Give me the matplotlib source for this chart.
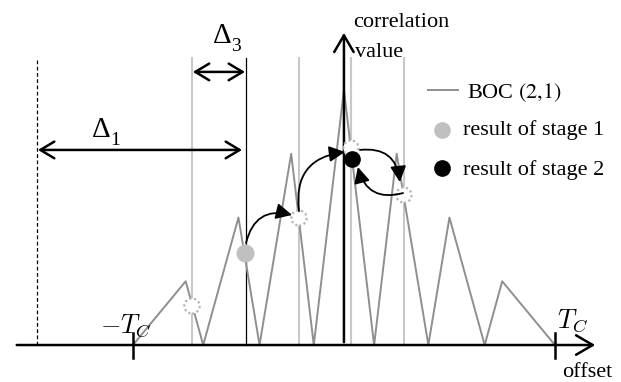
import matplotlib
matplotlib.use("Agg")
import matplotlib.pyplot as plt
from matplotlib.patches import FancyArrowPatch

plt.rcParams['font.family'] = ['Liberation Serif', 'DejaVu Serif']
plt.rcParams['mathtext.fontset'] = 'cm'

# BOC(2,1) correlation envelope (offset in chips, |R|)
offset_tc = [-1, -0.75, -0.667, -0.5, -0.4, -0.25, -0.143, 0, 0.143, 0.25, 0.4, 0.5, 0.667, 0.75, 1]
corr = [0, 0.25, 0, 0.5, 0, 0.75, 0, 1, 0, 0.75, 0, 0.5, 0, 0.25, 0]

# search grid lines
grid_x = [-0.720, -0.213, 0.033, 0.284]
stage1_x = -0.464
dashed_x = -1.455
line_top = 1.125

# candidate points (dotted), stage results
cand_x = [-0.720, -0.213, 0.033, 0.284]
cand_y = [0.153, 0.498, 0.773, 0.588]
s1_pt = (-0.469, 0.361)
s2_pt = (0.038, 0.729)

# hop arrows: (start, end)
hops = [((-0.464, 0.40), (-0.246, 0.510)),
        ((-0.213, 0.525), (0.005, 0.757)),
        ((0.076, 0.765), (0.265, 0.639)),
        ((0.280, 0.596), (0.066, 0.698))]

fig = plt.figure(figsize=(6.21, 3.82), dpi=100)
ax = fig.add_axes([0, 0, 1, 1])
ax.set_xlim(-1.630, 1.313)
ax.set_ylim(-0.145, 1.353)
ax.axis('off')

light = '#c8c8c8'
mid = '#8f8f8f'

for gx in grid_x:
    ax.plot([gx, gx], [0, line_top], color=light, lw=1.5, zorder=1)
ax.plot([stage1_x, stage1_x], [0, line_top], color='black', lw=0.9, zorder=1)
ax.plot([dashed_x, dashed_x], [0, 1.118], color='black', lw=0.9,
        linestyle=(0, (3, 2)), zorder=1)

ax.plot(offset_tc, corr, color=mid, lw=1.4, zorder=2)

# axes
ax.add_patch(FancyArrowPatch((-1.564, 0), (1.204, 0), arrowstyle='->,head_length=0.6,head_width=0.35',
                             mutation_scale=20, lw=1.8, color='black', zorder=3))
ax.add_patch(FancyArrowPatch((0, 0), (0, 1.235), arrowstyle='->,head_length=0.6,head_width=0.35',
                             mutation_scale=20, lw=1.8, color='black', zorder=3))
for tx in [-1, 1]:
    ax.plot([tx, tx], [-0.051, 0.047], color='black', lw=1.8, zorder=3)

# delta arrows
ax.add_patch(FancyArrowPatch((-1.450, 0.765), (-0.483, 0.765), arrowstyle='<->,head_length=0.5,head_width=0.3',
                             mutation_scale=20, lw=1.8, color='black', shrinkA=0, shrinkB=0))
ax.add_patch(FancyArrowPatch((-0.716, 1.071), (-0.469, 1.071), arrowstyle='<->,head_length=0.5,head_width=0.3',
                             mutation_scale=20, lw=1.8, color='black', shrinkA=0, shrinkB=0))
ax.text(-1.194, 0.816, 'Δ', fontsize=21, va='baseline', ha='left')
ax.text(-1.110, 0.786, '1', fontsize=14, va='baseline', ha='left')
ax.text(-0.621, 1.184, 'Δ', fontsize=21, va='baseline', ha='left')
ax.text(-0.537, 1.154, '3', fontsize=14, va='baseline', ha='left')

# points
ax.scatter(cand_x, cand_y, s=120, facecolors='white', edgecolors='#b4b4b4',
           linewidths=1.6, linestyles=(0, (1, 1.2)), zorder=4)
ax.plot(*s1_pt, 'o', ms=12, color='#c0c0c0', zorder=5)
ax.plot(*s2_pt, 'o', ms=11, color='black', zorder=5)

for (p0, p1) in hops:
    ax.add_patch(FancyArrowPatch(p0, p1, connectionstyle='arc3,rad=-0.5',
                                 arrowstyle='-|>,head_length=0.6,head_width=0.3',
                                 mutation_scale=16, lw=1.3, color='black',
                                 shrinkA=0, shrinkB=0, zorder=6))

# labels
ax.text(0.043, 1.247, 'correlation', fontsize=16, va='baseline', ha='left')
ax.text(0.052, 1.129, 'value', fontsize=16, va='baseline', ha='left')
ax.text(1.033, -0.125, 'offset', fontsize=16, va='baseline', ha='left')
ax.text(-1.156, 0.051, r'$-T_C$', fontsize=19, va='baseline', ha='left')
ax.text(1.009, 0.067, r'$T_C$', fontsize=19, va='baseline', ha='left')

# legend
ax.plot([0.398, 0.540], [1.0, 1.0], color=mid, lw=1.4)
ax.text(0.583, 0.969, r'BOC $(\mathit{2{,}1})$', fontsize=16, math_fontfamily='stix',
        va='baseline', ha='left')
ax.plot(0.464, 0.843, 'o', ms=11, color='#c0c0c0')
ax.text(0.564, 0.824, 'result of stage 1', fontsize=16, va='baseline', ha='left')
ax.plot(0.464, 0.694, 'o', ms=11, color='black')
ax.text(0.564, 0.667, 'result of stage 2', fontsize=16, va='baseline', ha='left')

fig.savefig('out.png', dpi=100)
